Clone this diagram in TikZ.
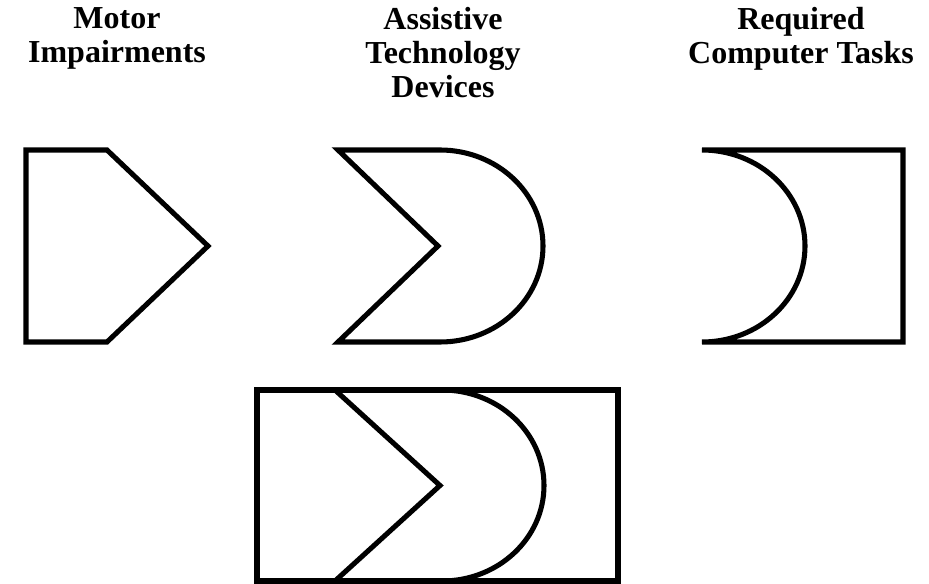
\documentclass[tikz,border=0pt]{standalone}
\usepackage{fontspec}
\setmainfont{Liberation Serif}
\usetikzlibrary{positioning}

\begin{document}
\begin{tikzpicture}[x=0.75pt,y=0.75pt,line width=3.8pt,
    heading/.style={align=center,anchor=north,inner sep=0pt,
      font=\bfseries\fontsize{24}{25.5}\selectfont}]
    \useasboundingbox (0,0) rectangle (929,583);
    % headings
    \node[heading] (motor) at (117,578) {Motor\\Impairments};
    \node[heading] (atd) at (443,578) {Assistive\\Technology\\Devices};
    \node[heading] (tasks) at (801,578) {Required\\Computer Tasks};
    % motor impairments: arrow shaped tab
    \draw (26,433) -- (107,433) -- (208,337) -- (107,241) -- (26,241) -- cycle;
    % assistive technology device: notch in, round out
    \draw (338,433) -- (440,433)
      arc[start angle=90,end angle=-90,x radius=103,y radius=96]
      -- (338,241) -- (438,337) -- cycle;
    % required computer tasks: round socket
    \draw (702,433) -- (903,433) -- (903,241) -- (702,241)
      arc[start angle=-90,end angle=90,x radius=103,y radius=96] -- cycle;
    % all three fitted together
    \begin{scope}
      \clip (0,0) rectangle (929,583);
      \draw (257,193) rectangle (618,2);
      \draw (335,193) -- (442,193)
        arc[start angle=90,end angle=-90,x radius=102,y radius=95.5]
        -- (335,2) -- (440,97.5) -- cycle;
    \end{scope}
\end{tikzpicture}
\end{document}
